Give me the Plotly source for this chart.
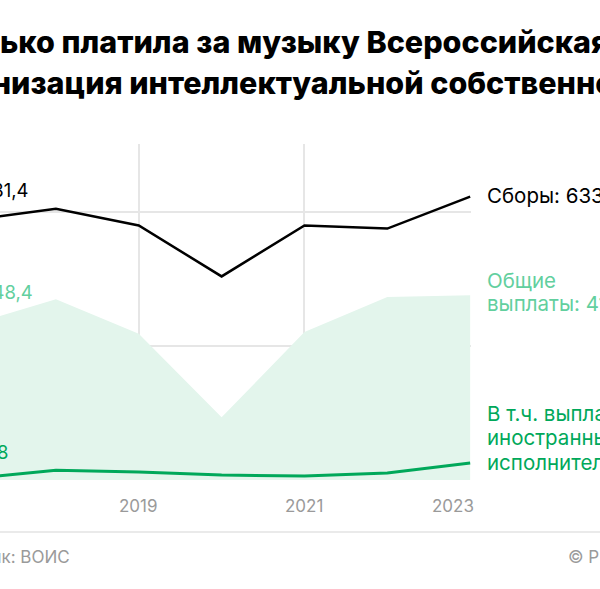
import plotly.graph_objects as go

years = [2017, 2018, 2019, 2020, 2021, 2022, 2023]
collections = [581.4, 606.0, 569.0, 455.0, 569.0, 562.0, 633.5]
total_payouts = [348.4, 404.0, 327.0, 140.0, 331.0, 409.0, 413.2]
foreign_payouts = [3.8, 22.0, 18.0, 11.0, 9.0, 15.5, 38.1]

year_ticks = [2017, 2019, 2021, 2023]
y_ticks = [0, 300, 600, 750]

title_1 = "Сколько платила за музыку Всероссийская"
title_2 = "организация интеллектуальной собственности"
source = "Источник: ВОИС"
copyright_txt = "© РБК"

BLACK = "#000000"
MINT = "#62cf9e"
GREEN = "#00a85a"
AREA = "#e3f5ec"
GRID = "#e6e6e6"
GREY = "#9a9a9a"
FONT = "Inter"

# pixel geometry helpers (plot area: x 0..471, y 144..480)
PW, PT, PB = 471.0, 144.0, 480.0
def px(x):
    return x / PW
def py(y):
    return (PB - y) / (PB - PT)

fig = go.Figure()
fig.add_trace(go.Scatter(x=years, y=total_payouts, mode="lines", fill="tozeroy",
                         fillcolor=AREA, line=dict(width=0, color=AREA),
                         hoverinfo="skip", showlegend=False))
fig.add_trace(go.Scatter(x=years, y=collections, mode="lines",
                         line=dict(color=BLACK, width=2.5), showlegend=False))
fig.add_trace(go.Scatter(x=years, y=foreign_payouts, mode="lines",
                         line=dict(color=GREEN, width=3), showlegend=False))

ann = []
# title
TX = -80
ann.append(dict(text=title_1, xref="paper", yref="paper", x=px(TX), y=py(42),
                xanchor="left", yanchor="middle", showarrow=False,
                font=dict(family=FONT, size=30.5, color="#000", weight=800)))
ann.append(dict(text=title_2, xref="paper", yref="paper", x=px(TX), y=py(82),
                xanchor="left", yanchor="middle", showarrow=False,
                font=dict(family=FONT, size=30.5, color="#000", weight=800)))

# start-value labels
fmt = lambda v: f"{v:.1f}".replace(".", ",")
ann.append(dict(text=fmt(collections[0]), xref="paper", yref="paper", x=px(31), y=py(190),
                xanchor="right", yanchor="middle", showarrow=False,
                font=dict(family=FONT, size=18.5, color=BLACK)))
ann.append(dict(text=fmt(total_payouts[0]), xref="paper", yref="paper", x=px(35), y=py(292),
                xanchor="right", yanchor="middle", showarrow=False,
                font=dict(family=FONT, size=18.5, color=MINT)))
ann.append(dict(text=fmt(foreign_payouts[0]), xref="paper", yref="paper", x=px(10), y=py(452),
                xanchor="right", yanchor="middle", showarrow=False,
                font=dict(family=FONT, size=18.5, color=GREEN)))

# end labels
LS = 20.5
ann.append(dict(text="Сборы: " + fmt(collections[-1]), xref="paper", yref="paper",
                x=px(485), y=py(195), xanchor="left", yanchor="middle", showarrow=False,
                align="left", font=dict(family=FONT, size=LS, color=BLACK)))
ann.append(dict(text="Общие", xref="paper", yref="paper",
                x=px(485), y=py(280), xanchor="left", yanchor="middle", showarrow=False,
                align="left", font=dict(family=FONT, size=LS, color=MINT)))
ann.append(dict(text="выплаты: " + fmt(total_payouts[-1]), xref="paper", yref="paper",
                x=px(485), y=py(303), xanchor="left", yanchor="middle", showarrow=False,
                align="left", font=dict(family=FONT, size=LS, color=MINT)))
for i, t in enumerate(["В т.ч. выплаты", "иностранным",
                       "исполнителям: " + fmt(foreign_payouts[-1])]):
    ann.append(dict(text=t, xref="paper", yref="paper",
                    x=px(485), y=py(413 + 24.5 * i), xanchor="left", yanchor="middle",
                    showarrow=False, align="left",
                    font=dict(family=FONT, size=LS, color=GREEN)))

# year tick labels
for yv in year_ticks:
    if yv == year_ticks[0]:
        xa, xs = "left", -3
    elif yv == year_ticks[-1]:
        xa, xs = "right", 6
    else:
        xa, xs = "center", 0
    ann.append(dict(text=str(yv), xref="x", yref="paper", x=yv, y=py(506),
                    xanchor=xa, xshift=xs, yanchor="middle", showarrow=False,
                    font=dict(family=FONT, size=17, color=GREY)))

# footer
ann.append(dict(text=source, xref="paper", yref="paper", x=px(72), y=py(557),
                xanchor="right", yanchor="middle", showarrow=False,
                font=dict(family=FONT, size=17, color=GREY)))
ann.append(dict(text=copyright_txt, xref="paper", yref="paper", x=px(566), y=py(557),
                xanchor="left", yanchor="middle", showarrow=False,
                font=dict(family=FONT, size=17, color=GREY)))

fig.add_shape(type="line", xref="paper", yref="paper", x0=px(-10), x1=px(610),
              y0=py(532), y1=py(532), line=dict(color="#e3e3e3", width=1.5))

x0 = 2023 - 471.0 / 83.0
fig.update_layout(
    width=600, height=589,
    margin=dict(l=0, r=129, t=144, b=109, pad=0),
    paper_bgcolor="white", plot_bgcolor="white",
    annotations=ann,
    xaxis=dict(range=[x0, 2023.01], tickvals=year_ticks, showticklabels=False,
               showgrid=True, gridcolor=GRID, gridwidth=1.5, zeroline=False,
               showline=False, ticks=""),
    yaxis=dict(range=[0, 751], tickvals=y_ticks, showticklabels=False,
               showgrid=True, gridcolor=GRID, gridwidth=1.5, zeroline=False,
               showline=False, ticks=""),
    font=dict(family=FONT),
)

fig.write_html("out.html", config={"displayModeBar": False},
               post_script="document.body.style.margin='0';document.body.style.padding='0';")
